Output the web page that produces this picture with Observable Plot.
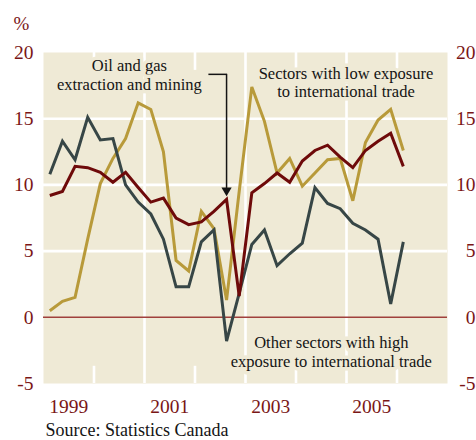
<!DOCTYPE html>
<html><head><meta charset="utf-8">
<script src="https://cdn.jsdelivr.net/npm/d3@7"></script>
<script src="https://cdn.jsdelivr.net/npm/@observablehq/plot@0.6"></script>
<style>body{margin:0;background:#fff} svg{display:block}</style>
</head><body><div id="chart"></div>
<script>
// Quarterly series, 1999 Q1 to 2006 Q1 (%)
const startYear = 1999;
const quarterCount = 29;
const oilGas       = [9.2,9.5,11.4,11.3,10.95,10.2,10.95,9.8,8.7,9.0, 7.5,7.0,7.2,8.0,8.9,1.6,9.4,10.1,10.9,10.2, 11.8,12.6,13.0,12.1,11.3,12.6,13.3,13.9,11.4];
const lowExposure  = [0.5,1.2,1.5,5.9,10.1,12.0,13.5,16.2,15.7,12.5, 4.3,3.5,8.0,6.7,1.3,9.5,17.4,14.8,10.9,12.0, 9.9,10.9,11.9,12.0,8.8,13.2,14.9,15.7,12.6];
const highExposure = [10.8,13.3,11.9,15.1,13.4,13.5,10.0,8.7,7.8,5.9, 2.3,2.3,5.7,6.6,-1.8,1.8,5.5,6.6,3.9,4.8, 5.6,9.8,8.6,8.2,7.1,6.6,5.9,1.0,5.7];

const yTicks = [-5, 0, 5, 10, 15, 20];
const xTickYears = [1999, 2001, 2003, 2005];
const fullGridYears = [2001, 2003, 2005];
const shortTickYears = [2000, 2002, 2004, 2006];
const labelOil = "Oil and gas\nextraction and mining";
const labelLow = "Sectors with low exposure\nto international trade";
const labelHigh = "Other sectors with high\nexposure to international trade";
const unitLabel = "%";
const sourceText = "Source: Statistics Canada";

const quarters = d3.range(quarterCount).map(i => startYear + i / 4 + 0.125);
const toRows = arr => arr.map((v, i) => ({x: quarters[i], value: v}));

const panel = "#efead6";
const tickRed = "#7a1616";
const ink = "#141414";
const arrowIdx = 14;

const chart = Plot.plot({
  width: 476, height: 440,
  marginLeft: 43, marginRight: 29, marginTop: 52, marginBottom: 57,
  style: {fontFamily: "'Liberation Serif', serif", fontSize: "19.5px", background: "#fff"},
  x: {domain: [1999, 2007], label: null},
  y: {domain: [-5, 20], label: null},
  marks: [
    Plot.frame({fill: panel, stroke: null}),
    Plot.ruleY([5, 10, 15], {stroke: "#fff", strokeWidth: 2.6}),
    Plot.ruleX(fullGridYears, {stroke: "#fff", strokeWidth: 2.6}),
    Plot.ruleX(shortTickYears, {y1: 20, y2: 18.65, stroke: "#fff", strokeWidth: 2.6}),
    Plot.ruleX(shortTickYears, {y1: -5, y2: -3.7, stroke: "#fff", strokeWidth: 2.6}),
    Plot.text([labelOil], {x: 2000.7, y: 19.6, text: d => d, lineAnchor: "top", textAnchor: "middle", fontSize: 16.5, lineHeight: 1.15, fill: ink, stroke: panel, strokeWidth: 7}),
    Plot.text([labelLow], {x: 2004.99, y: 19.0, text: d => d, lineAnchor: "top", textAnchor: "middle", fontSize: 16.5, lineHeight: 1.12, fill: ink, stroke: panel, strokeWidth: 7}),
    Plot.text([labelHigh], {x: 2004.7, y: -1.38, text: d => d, lineAnchor: "top", textAnchor: "middle", fontSize: 16.5, lineHeight: 1.1, fill: ink, stroke: panel, strokeWidth: 7}),
    Plot.ruleY([0], {stroke: "#a0403c", strokeWidth: 1.5}),
    Plot.line(toRows(lowExposure), {x: "x", y: "value", stroke: "#b89a3a", strokeWidth: 3, strokeLinejoin: "miter", strokeMiterlimit: 4, strokeLinecap: "butt"}),
    Plot.line(toRows(highExposure), {x: "x", y: "value", stroke: "#374646", strokeWidth: 3, strokeLinejoin: "miter", strokeMiterlimit: 4, strokeLinecap: "butt"}),
    Plot.line(toRows(oilGas), {x: "x", y: "value", stroke: "#6e0a0a", strokeWidth: 3, strokeLinejoin: "miter", strokeMiterlimit: 4, strokeLinecap: "butt"}),
    Plot.ruleY([18.35], {x1: 2002.29, x2: quarters[arrowIdx], stroke: ink, strokeWidth: 1.5, strokeLinecap: "square"}),
    Plot.ruleX([quarters[arrowIdx]], {y1: 18.35, y2: oilGas[arrowIdx], insetBottom: 11, stroke: ink, strokeWidth: 1.5}),
    Plot.dot([{x: quarters[arrowIdx], y: oilGas[arrowIdx]}], {x: "x", y: "y", symbol: "triangle", r: 3.8, rotate: 180, fill: ink, stroke: null, dy: -9}),
    Plot.axisY(yTicks, {anchor: "left", tickSize: 0, tickPadding: 10, tickFormat: d => String(d), color: tickRed, label: null}),
    Plot.axisY(yTicks, {anchor: "right", tickSize: 0, tickPadding: 28, textAnchor: "end", tickFormat: d => String(d), color: tickRed, label: null}),
    Plot.axisX(xTickYears.map(y => y + 0.5), {anchor: "bottom", tickSize: 0, tickPadding: 16, tickFormat: d => String(Math.floor(d)), color: tickRed, label: null}),
    Plot.text([unitLabel], {frameAnchor: "top-left", dx: -30, dy: -23, textAnchor: "start", lineAnchor: "bottom", fill: tickRed, fontSize: 19}),
    Plot.text([sourceText], {frameAnchor: "bottom-left", dx: 2, dy: 52, textAnchor: "start", lineAnchor: "bottom", fill: ink, fontSize: 18})
  ]
});
document.getElementById("chart").append(chart);
</script>
</body></html>
